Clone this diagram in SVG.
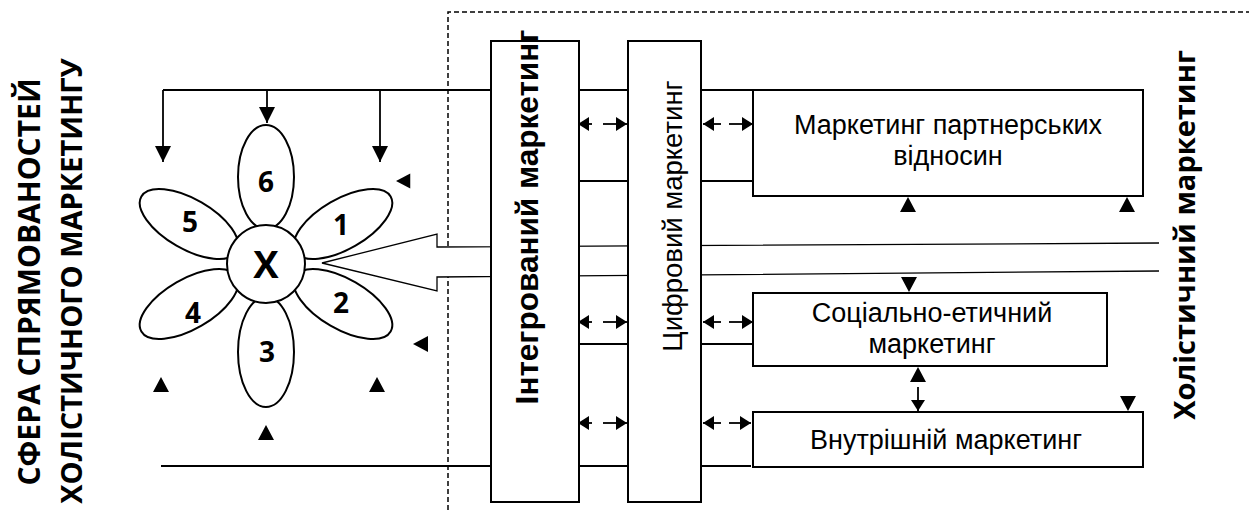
<svg xmlns="http://www.w3.org/2000/svg" width="1249" height="510" viewBox="0 0 1249 510">
<style>
.ln{stroke:#000;stroke-width:1.8;fill:none}
.bx{stroke:#000;stroke-width:2;fill:#fff}
.pt{stroke:#000;stroke-width:2;fill:#fff}
.num{font-family:"Open Sans","Liberation Sans",sans-serif;font-weight:bold;font-size:28px;text-anchor:middle;fill:#000}
.cal{font-family:"Liberation Sans",Arial,sans-serif;font-size:27px;text-anchor:middle;fill:#000}
.ttl{font-family:"Open Sans","Liberation Sans",sans-serif;font-weight:bold;font-size:30px;text-anchor:middle;fill:#000}
.ari{font-family:"Liberation Sans",Arial,sans-serif;text-anchor:middle;fill:#000}
</style>
<defs>
<marker id="ah" viewBox="0 0 11 14" refX="11" refY="7" markerWidth="11" markerHeight="14" markerUnits="userSpaceOnUse" orient="auto">
<path d="M0,0 L11,7 L0,14 z" fill="#000"/>
</marker>
<marker id="ab" viewBox="0 0 16 16" refX="16" refY="8" markerWidth="16" markerHeight="16" markerUnits="userSpaceOnUse" orient="auto">
<path d="M0,0 L16,8 L0,16 z" fill="#000"/>
</marker>
<path id="tri" d="M0,0 L8,15 L-8,15 z" fill="#000"/>
</defs>

<g id="frame">
<path d="M448,510 L448,12 L1249,12" fill="none" stroke="#000" stroke-width="1.5" stroke-dasharray="5,3"/>
</g>

<g id="titles">
<text class="ttl" transform="translate(40,282) rotate(-90)">СФЕРА СПРЯМОВАНОСТЕЙ</text>
<text class="ttl" transform="translate(82,281) rotate(-90)" style="font-size:29px">ХОЛІСТИЧНОГО МАРКЕТИНГУ</text>
<text class="ttl" transform="translate(1195,235) rotate(-90)" style="font-size:29px">Холістичний маркетинг</text>
</g>

<g id="connectors">
<path class="ln" d="M163,90 H491 M579,90 H628 M701,90 H753"/>
<line class="ln" x1="163" y1="90" x2="163" y2="162" marker-end="url(#ab)"/>
<line class="ln" x1="267" y1="90" x2="267" y2="123" marker-end="url(#ab)"/>
<line class="ln" x1="380" y1="90" x2="380" y2="162" marker-end="url(#ab)"/>
<path class="ln" d="M579,181 H628 M701,181 H753 M579,344 H628 M701,344 H753 M161,466 H491 M579,466 H628 M701,466 H751"/>
<g id="dbl">
<line class="ln" x1="592" y1="124" x2="578" y2="124" marker-end="url(#ah)"/>
<line class="ln" x1="603" y1="124" x2="627" y2="124" marker-end="url(#ah)"/>
<line class="ln" x1="721" y1="124" x2="703" y2="124" marker-end="url(#ah)"/>
<line class="ln" x1="729" y1="124" x2="753" y2="124" marker-end="url(#ah)"/>
<line class="ln" x1="592" y1="322" x2="578" y2="322" marker-end="url(#ah)"/>
<line class="ln" x1="603" y1="322" x2="627" y2="322" marker-end="url(#ah)"/>
<line class="ln" x1="721" y1="322" x2="703" y2="322" marker-end="url(#ah)"/>
<line class="ln" x1="729" y1="322" x2="753" y2="322" marker-end="url(#ah)"/>
<line class="ln" x1="592" y1="423" x2="578" y2="423" marker-end="url(#ah)"/>
<line class="ln" x1="603" y1="423" x2="627" y2="423" marker-end="url(#ah)"/>
<line class="ln" x1="721" y1="423" x2="703" y2="423" marker-end="url(#ah)"/>
<line class="ln" x1="729" y1="423" x2="751" y2="423" marker-end="url(#ah)"/>
</g>
<line class="ln" x1="918" y1="387" x2="918" y2="411" marker-end="url(#ah)"/>
<g id="heads">
<use href="#tri" transform="translate(918,367)"/>
<use href="#tri" transform="translate(161,377)"/>
<use href="#tri" transform="translate(377,377)"/>
<use href="#tri" transform="translate(266,425)"/>
<use href="#tri" transform="translate(908,197)"/>
<use href="#tri" transform="translate(1127,197)"/>
<use href="#tri" transform="translate(909,292) rotate(180)"/>
<use href="#tri" transform="translate(1128,411) rotate(180)"/>
<use href="#tri" transform="translate(396,181) rotate(-90) scale(0.95,0.95)"/>
<use href="#tri" transform="translate(413,344) rotate(-90)"/>
</g>
<path id="bigarrow" d="M1159,243 L437,247 L437,234 L322,263 L437,291 L437,277 L1159,271" fill="#fff" stroke="#000" stroke-width="1.3"/>
</g>

<g id="flower">
<ellipse class="pt" cx="343" cy="224" rx="55" ry="25" transform="rotate(-30 343 224)"/>
<ellipse class="pt" cx="189" cy="224" rx="55" ry="25" transform="rotate(30 189 224)"/>
<ellipse class="pt" cx="343" cy="304" rx="55" ry="25" transform="rotate(30 343 304)"/>
<ellipse class="pt" cx="189" cy="304" rx="55" ry="25" transform="rotate(-30 189 304)"/>
<ellipse class="pt" cx="266" cy="177" rx="28" ry="52"/>
<ellipse class="pt" cx="266" cy="352" rx="28" ry="55"/>
<circle class="pt" cx="266" cy="264" r="39"/>
<text class="num" x="266" y="192">6</text>
<text class="num" x="190" y="232">5</text>
<text class="num" x="341" y="235">1</text>
<text class="num" x="193" y="323">4</text>
<text class="num" x="341" y="313">2</text>
<text class="num" x="267" y="362">3</text>
<text class="num" x="266" y="278" style="font-size:38px">X</text>
</g>

<g id="integrated">
<rect class="bx" x="491" y="41" width="88" height="461"/>
<text class="ari" transform="translate(538,217) rotate(-90)" style="font-size:31.5px;font-weight:bold">Інтегрований маркетинг</text>
</g>
<g id="digital">
<rect class="bx" x="628" y="41" width="73" height="461"/>
<text class="ari" transform="translate(682,216) rotate(-90)" style="font-size:27.5px">Цифровий маркетинг</text>
</g>
<g id="partner">
<rect class="bx" x="753" y="90" width="390" height="106"/>
<text class="cal"><tspan x="948" y="134">Маркетинг партнерських</tspan><tspan x="948" y="165">відносин</tspan></text>
</g>
<g id="social">
<rect class="bx" x="753" y="293" width="354" height="73"/>
<text class="cal"><tspan x="932" y="322">Соціально-етичний</tspan><tspan x="932" y="353">маркетинг</tspan></text>
</g>
<g id="internal">
<rect class="bx" x="753" y="412" width="390" height="55"/>
<text class="cal" x="946" y="449">Внутрішній маркетинг</text>
</g>
</svg>
